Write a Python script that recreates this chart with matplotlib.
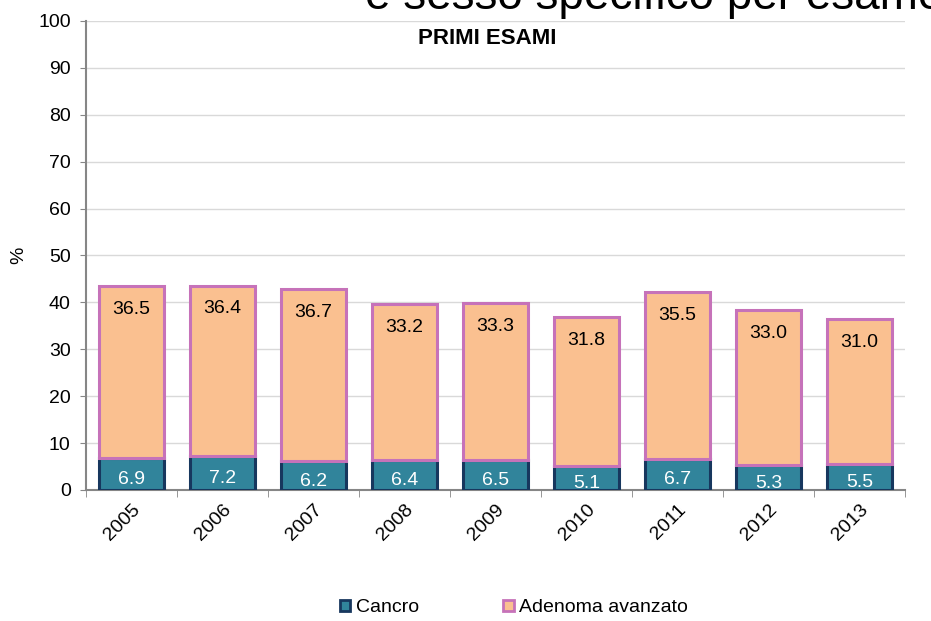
import matplotlib
matplotlib.use("Agg")
import matplotlib.pyplot as plt
from matplotlib.patches import Patch

plt.rcParams['font.family'] = ['Liberation Sans', 'DejaVu Sans']

anni = ['2005', '2006', '2007', '2008', '2009', '2010', '2011', '2012', '2013']
cancro = [6.9, 7.2, 6.2, 6.4, 6.5, 5.1, 6.7, 5.3, 5.5]
adenoma = [36.5, 36.4, 36.7, 33.2, 33.3, 31.8, 35.5, 33.0, 31.0]

col_cancro = '#31849B'
edge_cancro = '#17375E'
col_adenoma = '#FAC090'
edge_adenoma = '#C672B9'

fig = plt.figure(figsize=(9.31, 6.21), dpi=100)
ax = fig.add_axes([86 / 931, 1 - 490 / 621, 819 / 931, 469 / 621])

x = range(len(anni))
ax.bar(x, cancro, width=0.72, color=col_cancro, edgecolor=edge_cancro, linewidth=2.2, zorder=3)
ax.bar(x, adenoma, width=0.72, bottom=cancro, color=col_adenoma, edgecolor=edge_adenoma,
       linewidth=2.2, zorder=3)

for i in x:
    ax.text(i, cancro[i] / 2 - 1.2, f'{cancro[i]:.1f}', ha='center', va='center',
            color='white', fontsize=14, zorder=4)
    top = cancro[i] + adenoma[i]
    ax.text(i, top - 5, f'{adenoma[i]:.1f}', ha='center', va='center',
            color='black', fontsize=14, zorder=4)

ax.set_xlim(-0.5, len(anni) - 0.5)
ax.set_ylim(0, 100)
ax.set_yticks(range(0, 101, 10))
ax.tick_params(axis='y', labelsize=14, length=4, color='#868686', pad=7)
ax.yaxis.grid(True, color='#D9D9D9', linewidth=1, zorder=0)
ax.set_ylabel('%', fontsize=14, labelpad=8)

ax.set_xticks(list(x))
ax.set_xticklabels(anni, rotation=45, ha='right', rotation_mode='anchor', fontsize=14)
ax.tick_params(axis='x', which='major', length=0, pad=8)
ax.set_xticks([i + 0.5 for i in range(-1, len(anni))], minor=True)
ax.tick_params(axis='x', which='minor', length=5, color='#868686')

for s in ['top', 'right']:
    ax.spines[s].set_visible(False)
ax.spines['left'].set_color('#868686')
ax.spines['bottom'].set_color('#868686')
ax.spines['left'].set_linewidth(1.5)
ax.spines['bottom'].set_linewidth(1.5)

ax.text(0.49, 0.962, 'PRIMI ESAMI', transform=ax.transAxes, ha='center', va='center',
        fontsize=16, fontweight='bold')

# titolo della slide, tagliato in alto
fig.text(365 / 931, 1 - 9 / 621, 'e sesso specifico per esame', fontsize=33,
         ha='left', va='baseline')

handles = [Patch(facecolor=col_cancro, edgecolor=edge_cancro, linewidth=2, label='Cancro'),
           Patch(facecolor=col_adenoma, edgecolor=edge_adenoma, linewidth=2, label='Adenoma avanzato')]
fig.legend(handles=handles, loc='center', bbox_to_anchor=(514 / 931, 1 - 608 / 621), ncol=2,
           frameon=False, fontsize=14, handlelength=0.55, handleheight=0.55,
           handletextpad=0.3, columnspacing=4.3)

fig.savefig('out.png', dpi=100)
